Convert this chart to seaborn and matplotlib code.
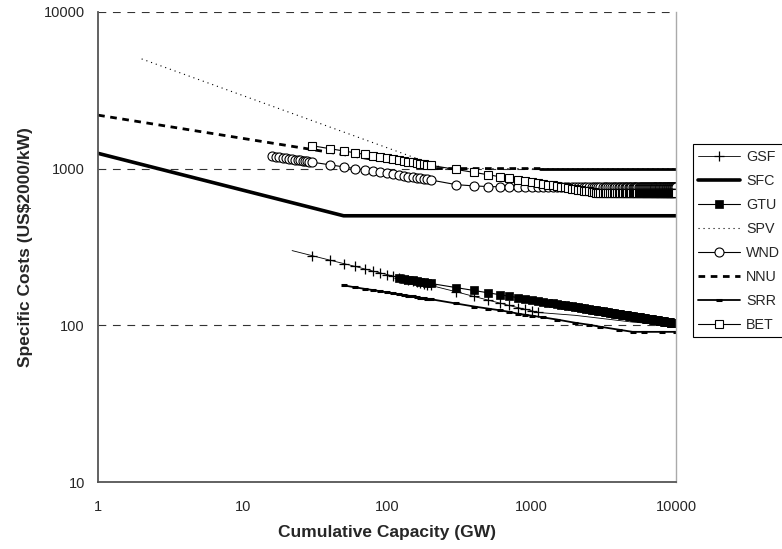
import seaborn as sns
import matplotlib
matplotlib.use("Agg")
import matplotlib.pyplot as plt

# x grid used by the dense marker series (GW)
cap_a = [16, 17, 18, 19, 20, 21, 22, 23, 24, 25, 26, 27, 28, 29]
cap_b = [30, 40, 50, 60, 70, 80, 90, 100, 110, 120, 130, 140, 150, 160, 170, 180, 190, 200]
cap_c = [300, 400, 500, 600, 700, 800, 900,
         1000, 1100, 1200, 1300, 1400, 1500, 1600, 1700, 1800, 1900,
         2000, 2100, 2200, 2300, 2400, 2500, 2600, 2700, 2800, 2900,
         3000, 3100, 3200, 3300, 3400, 3500, 3600, 3700, 3800, 3900,
         4000, 4100, 4200, 4300, 4400, 4500, 4600, 4700, 4800, 4900,
         5000, 5100, 5200, 5300, 5400, 5500, 5600, 5700, 5800, 5900,
         6000, 6100, 6200, 6300, 6400, 6500, 6600, 6700, 6800, 6900,
         7000, 7100, 7200, 7300, 7400, 7500, 7600, 7700, 7800, 7900,
         8000, 8100, 8200, 8300, 8400, 8500, 8600, 8700, 8800, 8900,
         9000, 9100, 9200, 9300, 9400, 9500, 9600, 9700, 9800, 9900,
         10000]

gsf_x = [22] + cap_b + [300, 400, 500, 600, 700, 800, 900, 1000, 1100, 2000, 3000, 5000, 10000]
gsf_y = [300, 279, 261, 248, 238, 229, 222, 216, 211, 206, 202, 199, 195, 192, 189, 187, 184,
         182, 180, 164, 153, 145, 139, 134, 130, 127, 124, 121, 116, 111, 105, 100]

sfc_x = [1, 50, 10000]
sfc_y = [1250, 500, 500]

gtu_x = [120, 130, 140, 150, 160, 170, 180, 190, 200] + cap_c
gtu_y = [200, 197.6, 195.4, 193.4, 191.5, 189.8, 188.2, 186.7, 185.2,
         174.3, 167.0, 161.4, 157.1, 153.5, 150.5, 147.8,
         145.5, 143.5, 141.6, 139.9, 138.4, 136.9, 135.6, 134.4, 133.2, 132.2,
         131.1, 130.2, 129.3, 128.4, 127.6, 126.8, 126.1, 125.4, 124.7, 124.0,
         123.4, 122.8, 122.2, 121.7, 121.1, 120.6, 120.1, 119.6, 119.1, 118.7,
         118.2, 117.8, 117.3, 116.9, 116.5, 116.1, 115.7, 115.4, 115.0, 114.7,
         114.3, 114.0, 113.6, 113.3, 113.0, 112.7, 112.4, 112.1, 111.8, 111.5,
         111.2, 110.9, 110.7, 110.4, 110.1, 109.9, 109.6, 109.4, 109.1, 108.9,
         108.7, 108.4, 108.2, 108.0, 107.8, 107.6, 107.3, 107.1, 106.9, 106.7,
         106.5, 106.3, 106.1, 105.9, 105.7, 105.6, 105.4, 105.2, 105.0, 104.8,
         104.7, 104.5, 104.3, 104.1, 104.0, 103.8, 103.6, 103.5, 103.3, 103.2,
         103.0]

spv_x = [2, 250, 10000]
spv_y = [5000, 1000, 1000]

wnd_x = cap_a + cap_b + cap_c
wnd_y = [1200, 1190, 1181, 1172, 1164, 1156, 1149, 1142, 1135, 1129, 1123, 1117, 1111, 1106,
         1101, 1058, 1026, 1000, 979, 961, 946, 932, 920, 909, 899, 889, 881, 873, 866, 859,
         852, 846,
         790, 775, 768, 765, 763, 762, 761,
         760, 760, 760, 760, 760, 760, 760, 760, 760, 760,
         760, 760, 760, 760, 760, 760, 760, 760, 760, 760,
         760, 760, 760, 760, 760, 760, 760, 760, 760, 760,
         760, 760, 760, 760, 760, 760, 760, 760, 760, 760,
         760, 760, 760, 760, 760, 760, 760, 760, 760, 760,
         760, 760, 760, 760, 760, 760, 760, 760, 760, 760,
         760, 760, 760, 760, 760, 760, 760, 760, 760, 760,
         760, 760, 760, 760, 760, 760, 760, 760, 760, 760,
         760, 760, 760, 760, 760, 760, 760, 760, 760, 760,
         760]

nnu_x = [1, 200, 1150, 10000]
nnu_y = [2190, 1000, 1000, 1000]

srr_x = [50, 60, 70, 80, 90, 100, 110, 120, 130, 140, 150, 160, 170, 180, 190, 200,
         300, 400, 500, 600, 700, 800, 900, 1000, 1200, 1500, 2000, 2500, 3000, 4000,
         5000, 6000, 8000, 10000]
srr_y = [180, 175, 171, 168, 165, 162.5, 160, 158, 156, 155, 153, 152, 150, 149, 148, 147,
         138, 132, 128, 125, 122, 119, 117, 115.5, 112.5, 109, 104, 101, 98, 94,
         91, 91, 91, 91]

bet_x = cap_b + cap_c
bet_y = [1400, 1340, 1295, 1260, 1231, 1206, 1185, 1166, 1149, 1134, 1120, 1108, 1096, 1085,
         1075, 1066, 1057, 1049,
         987, 945, 913, 888, 867, 850, 835,
         822, 810, 799, 790, 781, 773, 765, 758, 752, 745,
         740, 734, 729, 724, 719, 715, 711, 707, 703, 700,
         700, 700, 700, 700, 700, 700, 700, 700, 700, 700,
         700, 700, 700, 700, 700, 700, 700, 700, 700, 700,
         700, 700, 700, 700, 700, 700, 700, 700, 700, 700,
         700, 700, 700, 700, 700, 700, 700, 700, 700, 700,
         700, 700, 700, 700, 700, 700, 700, 700, 700, 700,
         700, 700, 700, 700, 700, 700, 700, 700, 700, 700,
         700, 700, 700, 700, 700, 700, 700, 700, 700, 700,
         700]

x_ticks = [1, 10, 100, 1000, 10000]
x_ticklabels = ["1", "10", "100", "1000", "10000"]
y_ticks = [10, 100, 1000, 10000]
y_ticklabels = ["10", "100", "1000", "10000"]

sns.set_theme(style="white")
plt.rcParams["font.family"] = ["Liberation Sans", "DejaVu Sans"]

fig = plt.figure(figsize=(7.82, 5.49), dpi=100)
ax = fig.add_axes([0.1255, 0.1215, 0.739, 0.8572])
ax.set_xscale("log")
ax.set_yscale("log")

common = dict(ax=ax, color="black", estimator=None, sort=False)

sns.lineplot(x=gsf_x, y=gsf_y, label="GSF", lw=0.6, marker="+", markersize=7,
             markeredgewidth=0.9, markeredgecolor="black",
             markevery=list(range(1, len(gsf_x) - 4)), **common)
sns.lineplot(x=sfc_x, y=sfc_y, label="SFC", lw=2.6, **common)
sns.lineplot(x=gtu_x, y=gtu_y, label="GTU", lw=0.8, marker="s", markersize=5.5,
             markeredgewidth=0.5, markeredgecolor="black", markerfacecolor="black", **common)
sns.lineplot(x=spv_x, y=spv_y, label="SPV", lw=0.8, linestyle=(0, (1, 3.5)), **common)
sns.lineplot(x=wnd_x, y=wnd_y, label="WND", lw=0.8, marker="o", markersize=6.5,
             markeredgewidth=0.8, markeredgecolor="black", markerfacecolor="white", **common)
sns.lineplot(x=nnu_x[:3], y=nnu_y[:3], label="NNU", lw=2.0, linestyle=(0, (2.4, 2.0)), **common)
sns.lineplot(x=nnu_x[2:], y=nnu_y[2:], lw=2.0, **common)
sns.lineplot(x=srr_x, y=srr_y, label="SRR", lw=1.3, marker="_", markersize=5,
             markeredgewidth=2.2, markeredgecolor="black", **common)
sns.lineplot(x=bet_x, y=bet_y, label="BET", lw=0.8, marker="s", markersize=5.5,
             markeredgewidth=0.8, markeredgecolor="black", markerfacecolor="white", **common)

ax.set_xlim(1, 10000)
ax.set_ylim(10, 10000)
ax.set_xticks(x_ticks)
ax.set_xticklabels(x_ticklabels)
ax.set_yticks(y_ticks)
ax.set_yticklabels(y_ticklabels)
ax.tick_params(axis="x", direction="out", length=4.5, width=1, color="#555555",
               labelsize=10.5, pad=8.5)
ax.tick_params(axis="y", direction="out", length=6.5, width=1, color="#555555",
               labelsize=10.5, pad=3)
ax.minorticks_off()

ax.yaxis.grid(True, which="major", color="#333333", lw=0.8, linestyle=(0, (7, 6)))
ax.xaxis.grid(False)
ax.set_axisbelow(True)

for s in ["left", "bottom"]:
    ax.spines[s].set_color("#555555")
    ax.spines[s].set_linewidth(1.3)
ax.spines["top"].set_visible(False)
ax.spines["right"].set_color("#aaaaaa")
ax.spines["right"].set_linewidth(1.0)

ax.set_xlabel("Cumulative Capacity (GW)", fontsize=12.5, fontweight="bold", labelpad=8)
ax.set_ylabel("Specific Costs (US\\$2000/kW)", fontsize=12.5, fontweight="bold", labelpad=8)

handles, labels = ax.get_legend_handles_labels()
leg = ax.legend(handles, labels, loc="upper left", bbox_to_anchor=(0.8858, 0.738),
                bbox_transform=fig.transFigure, frameon=True, fancybox=False,
                edgecolor="black", framealpha=1, fontsize=10.3, handlelength=2.9,
                handletextpad=0.45, labelspacing=0.7, borderpad=0.4, borderaxespad=0)
leg.get_frame().set_linewidth(0.8)

fig.savefig("out.png", dpi=100)
